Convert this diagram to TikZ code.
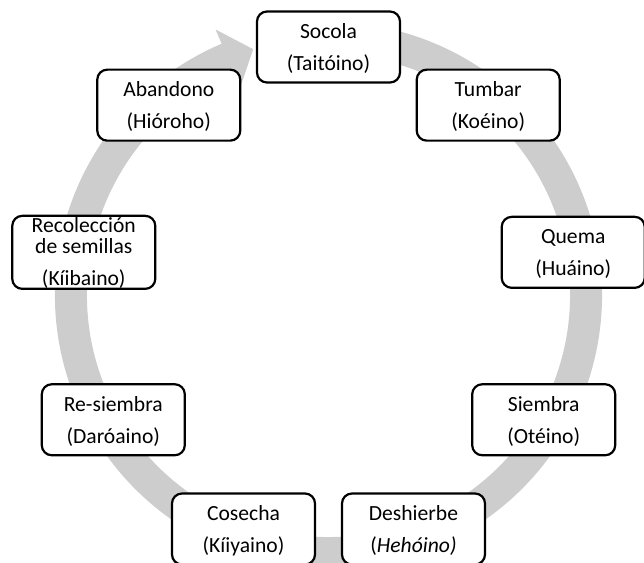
\documentclass[tikz,border=0pt]{standalone}
\usepackage{fontspec}
\setmainfont{Carlito}
\definecolor{bandgray}{RGB}{205,205,205}
\tikzset{
  stage/.style={draw=black, line width=2.2pt, rounded corners=10pt, fill=white,
    minimum width=143pt, minimum height=71pt, inner sep=0pt},
  lbl/.style={font=\fontsize{21.6}{23}\selectfont, anchor=base, inner sep=0pt},
  band/.style={fill=bandgray, draw=none}
}
\begin{document}
\begin{tikzpicture}[x=1pt,y=1pt]
\useasboundingbox (0,0) rectangle (644,562);
\clip (0,0) rectangle (644,562);
\coordinate (C) at (328.5,266.5);
% circular arrow band
\fill[band] ([shift={(C)}]78:273.5pt) arc[start angle=78, end angle=-247, radius=273.5pt]
  -- ([shift={(C)}]113:289pt) -- ([shift={(C)}]107:257.5pt) -- ([shift={(C)}]113:226pt)
  -- ([shift={(C)}]113:241.5pt) arc[start angle=-247, end angle=78, radius=241.5pt] -- cycle;
% boxes
\node[stage] (socola) at ([shift={(C)}]90:248.5pt) {};
\node[stage] (tumbar) at ([shift={(C)}]50:248.5pt) {};
\node[stage] (quema) at ([shift={(C)}]10:248.5pt) {};
\node[stage] (siembra) at ([shift={(C)}]-30:248.5pt) {};
\node[stage] (deshierbe) at ([shift={(C)}]-70:248.5pt) {};
\node[stage] (cosecha) at ([shift={(C)}]-110:248.5pt) {};
\node[stage] (resiembra) at ([shift={(C)}]-150:248.5pt) {};
\node[stage, minimum height=73pt] (recoleccion) at ([shift={(C)}]170:248.5pt) {};
\node[stage] (abandono) at ([shift={(C)}]130:248.5pt) {};
% labels
\node[lbl] (socola-a) at ([yshift=8.5pt]socola.center) {Socola};
\node[lbl] (socola-b) at ([yshift=-23.5pt]socola.center) {(Taitóino)};
\node[lbl] (tumbar-a) at ([yshift=8.5pt]tumbar.center) {Tumbar};
\node[lbl] (tumbar-b) at ([yshift=-23.5pt]tumbar.center) {(Koéino)};
\node[lbl] (quema-a) at ([yshift=8.5pt]quema.center) {Quema};
\node[lbl] (quema-b) at ([yshift=-23.5pt]quema.center) {(Huáino)};
\node[lbl] (siembra-a) at ([yshift=8.5pt]siembra.center) {Siembra};
\node[lbl] (siembra-b) at ([yshift=-23.5pt]siembra.center) {(Otéino)};
\node[lbl] (deshierbe-a) at ([yshift=8.5pt]deshierbe.center) {Deshierbe};
\node[lbl] (deshierbe-b) at ([yshift=-23.5pt]deshierbe.center) {(\textit{Hehóino)}};
\node[lbl] (cosecha-a) at ([yshift=8.5pt]cosecha.center) {Cosecha};
\node[lbl] (cosecha-b) at ([yshift=-23.5pt]cosecha.center) {(Kíiyaino)};
\node[lbl] (resiembra-a) at ([yshift=8.5pt]resiembra.center) {Re-siembra};
\node[lbl] (resiembra-b) at ([yshift=-23.5pt]resiembra.center) {(Daróaino)};
\node[lbl] (recoleccion-a) at ([yshift=20pt]recoleccion.center) {Recolección};
\node[lbl] (recoleccion-b) at ([yshift=-1.5pt]recoleccion.center) {de semillas};
\node[lbl] (recoleccion-c) at ([yshift=-33.5pt]recoleccion.center) {(Kíibaino)};
\node[lbl] (abandono-a) at ([yshift=8.5pt]abandono.center) {Abandono};
\node[lbl] (abandono-b) at ([yshift=-23.5pt]abandono.center) {(Hióroho)};
\end{tikzpicture}
\end{document}
